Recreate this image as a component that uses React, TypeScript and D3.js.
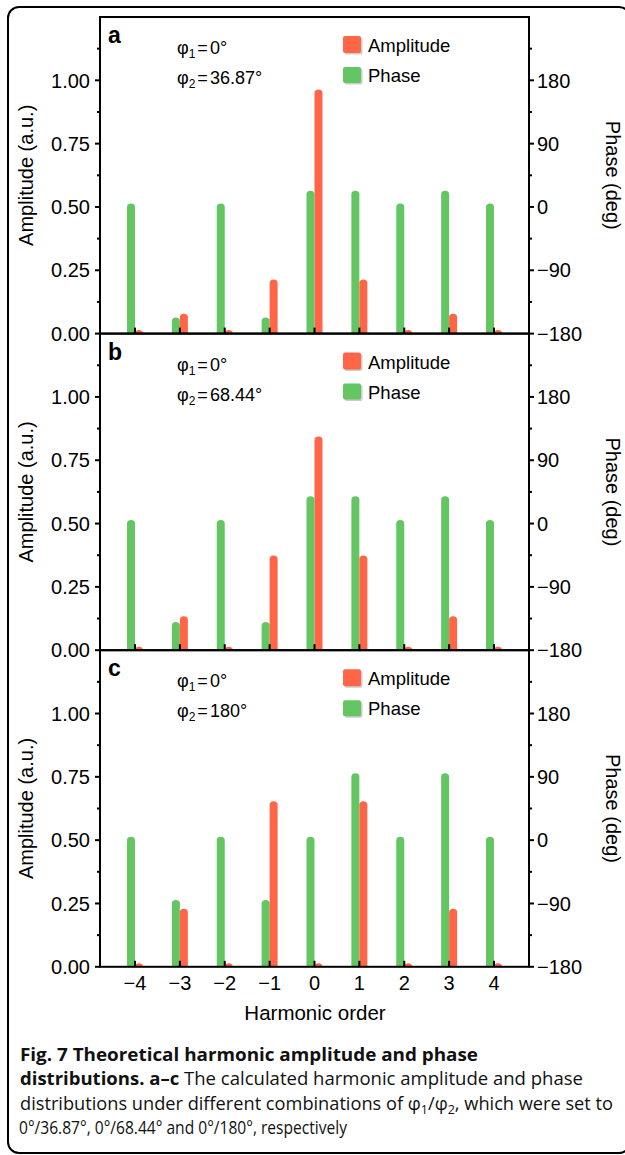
import { useMemo } from 'react';
import * as d3 from 'd3';

const W = 625;
const H = 1155;

// harmonic orders on the x axis
const ORDERS = [-4, -3, -2, -1, 0, 1, 2, 3, 4];

// panel a: phi2 = 36.87
const AMP_A = [0, 0.065, 0, 0.2, 0.95, 0.2, 0, 0.065, 0];
const PHASE_A = [0, -162, 0, -162, 18, 18, 0, 18, 0];
// panel b: phi2 = 68.44
const AMP_B = [0, 0.12, 0, 0.36, 0.83, 0.36, 0, 0.12, 0];
const PHASE_B = [0, -145, 0, -145, 34, 34, 0, 34, 0];
// panel c: phi2 = 180
const AMP_C = [0, 0.215, 0, 0.64, 0, 0.64, 0, 0.215, 0];
const PHASE_C = [0, -90, 0, -90, 0, 90, 0, 90, 0];

const PANEL_LABELS = ['a', 'b', 'c'];
const PHI1 = ['0°', '0°', '0°'];
const PHI2 = ['36.87°', '68.44°', '180°'];

const AMP_TICKS = [0, 0.25, 0.5, 0.75, 1.0];
const AMP_MINOR = [0.125, 0.375, 0.625, 0.875, 1.125];
const PHASE_TICKS = [-180, -90, 0, 90, 180];
const PHASE_MINOR = [-135, -45, 45, 135, 225];

const RED = '#ff6647';
const GREEN = '#63c663';
const FONT = '"Liberation Sans", Arial, Helvetica, sans-serif';
const CAP_FONT = '"Open Sans", "Noto Sans", sans-serif';

const left = 100;
const right = 529;
const top0 = 17;
const panelH = 316.6;
const barW = 8;

const panels = [
  { amp: AMP_A, phase: PHASE_A },
  { amp: AMP_B, phase: PHASE_B },
  { amp: AMP_C, phase: PHASE_C },
];

// bar with a rounded cap on top of the value
function barPath(x0: number, x1: number, yTop: number, yBase: number) {
  const r = (x1 - x0) / 2;
  const ry = 3.5;
  return `M${x0},${yBase}L${x0},${yTop}A${r},${ry} 0 0 1 ${x1},${yTop}L${x1},${yBase}Z`;
}

const Panel = ({ i }: { i: number }) => {
  const t = top0 + i * panelH;
  const b = t + panelH;
  const x = d3.scaleLinear().domain([-4.78, 4.78]).range([left, right]);
  const yAmp = d3.scaleLinear().domain([0, 1.25]).range([b, t]);
  const yPh = d3.scaleLinear().domain([-180, 270]).range([b, t]);
  const fAmp = d3.format('.2f');
  const fPh = d3.format('d');
  const { amp, phase } = panels[i];

  return (
    <g>
      {ORDERS.map((o, k) => (
        <path key={'g' + k} d={barPath(x(o) - barW, x(o), yPh(phase[k]), b)} fill={GREEN} />
      ))}
      {ORDERS.map((o, k) => (
        <path key={'r' + k} d={barPath(x(o), x(o) + barW, yAmp(amp[k]), b)} fill={RED} />
      ))}
      {/* bottom inward ticks */}
      {ORDERS.map((o) => (
        <line key={'xt' + o} x1={x(o)} x2={x(o)} y1={b} y2={b - 6} stroke="#000" strokeWidth={2} />
      ))}
      <rect x={left} y={t} width={right - left} height={panelH} fill="none" stroke="#000" strokeWidth={2} />
      {/* left axis */}
      {AMP_TICKS.map((v) => (
        <g key={'a' + v}>
          <line x1={left - 5} x2={left} y1={yAmp(v)} y2={yAmp(v)} stroke="#000" strokeWidth={2} />
          <text x={90} y={yAmp(v)} dy="0.36em" textAnchor="end" fontSize={20} fontFamily={FONT}>
            {fAmp(v)}
          </text>
        </g>
      ))}
      {AMP_MINOR.map((v) => (
        <line key={'am' + v} x1={left - 3} x2={left} y1={yAmp(v)} y2={yAmp(v)} stroke="#000" strokeWidth={2} />
      ))}
      {/* right axis */}
      {PHASE_TICKS.map((v) => (
        <g key={'p' + v}>
          <line x1={right} x2={right + 5} y1={yPh(v)} y2={yPh(v)} stroke="#000" strokeWidth={2} />
          <text x={537} y={yPh(v)} dy="0.36em" textAnchor="start" fontSize={20} fontFamily={FONT}>
            {fPh(v)}
          </text>
        </g>
      ))}
      {PHASE_MINOR.map((v) => (
        <line key={'pm' + v} x1={right} x2={right + 3} y1={yPh(v)} y2={yPh(v)} stroke="#000" strokeWidth={2} />
      ))}
      <text
        transform={`translate(33,${(t + b) / 2}) rotate(-90)`}
        textAnchor="middle"
        fontSize={20}
        fontFamily={FONT}
      >
        Amplitude (a.u.)
      </text>
      <text
        transform={`translate(606,${(t + b) / 2}) rotate(90)`}
        textAnchor="middle"
        fontSize={20}
        fontFamily={FONT}
      >
        Phase (deg)
      </text>
      {/* panel label and angles */}
      <text x={108} y={t + 26} fontSize={23} fontWeight={700} fontFamily={FONT}>
        {PANEL_LABELS[i]}
      </text>
      <text x={177} y={t + 37} fontSize={18} fontFamily={FONT}>
        <tspan>φ</tspan>
        <tspan fontSize={12} dy={4}>1</tspan>
        <tspan dy={-4} dx={2}>=</tspan>
        <tspan dx={2}>{PHI1[i]}</tspan>
      </text>
      <text x={177} y={t + 67} fontSize={18} fontFamily={FONT}>
        <tspan>φ</tspan>
        <tspan fontSize={12} dy={4}>2</tspan>
        <tspan dy={-4} dx={2}>=</tspan>
        <tspan dx={2}>{PHI2[i]}</tspan>
      </text>
      {/* legend */}
      <rect x={344.5} y={t + 20.5} width={18} height={17} rx={2} fill="#999" opacity={0.5} />
      <rect x={343} y={t + 19} width={18} height={17} rx={2} fill={RED} />
      <text x={368} y={t + 35} fontSize={18.5} fontFamily={FONT}>Amplitude</text>
      <rect x={344.5} y={t + 51.5} width={18} height={16} rx={2} fill="#999" opacity={0.5} />
      <rect x={343} y={t + 50} width={18} height={16} rx={2} fill={GREEN} />
      <text x={368} y={t + 65} fontSize={18.5} fontFamily={FONT}>Phase</text>
      {i === 2 &&
        ORDERS.map((o) => (
          <text key={'xl' + o} x={x(o)} y={990} textAnchor="middle" fontSize={20} fontFamily={FONT}>
            {fPh(o)}
          </text>
        ))}
    </g>
  );
};

export default function App() {
  const idx = useMemo(() => [0, 1, 2], []);
  return (
    <svg
      width={W}
      height={H}
      style={{ position: 'absolute', left: 0, top: 0, background: '#fff' }}
    >
      <rect x={0} y={0} width={W} height={H} fill="#fff" />
      <rect x={8} y={7} width={622} height={1146} rx={11} fill="none" stroke="#000" strokeWidth={2} />
      {idx.map((i) => (
        <Panel key={i} i={i} />
      ))}
      <text x={315} y={1020} textAnchor="middle" fontSize={20.5} fontFamily={FONT}>
        Harmonic order
      </text>
      <g fontFamily={CAP_FONT} fontSize={17.5} fill="#111">
        <text x={20} y={1061} fontWeight={700} textLength={458} lengthAdjust="spacingAndGlyphs">
          Fig. 7 Theoretical harmonic amplitude and phase
        </text>
        <text x={20} y={1085} textLength={563} lengthAdjust="spacingAndGlyphs">
          <tspan fontWeight={700}>distributions. a–c</tspan> The calculated harmonic amplitude and phase
        </text>
        <text x={20} y={1110} textLength={593} lengthAdjust="spacingAndGlyphs">
          distributions under different combinations of φ<tspan fontSize={12} dy={4}>1</tspan>
          <tspan dy={-4}>/φ</tspan>
          <tspan fontSize={12} dy={4}>2</tspan>
          <tspan dy={-4}>, which were set to</tspan>
        </text>
        <text x={19} y={1134} textLength={328} lengthAdjust="spacingAndGlyphs">
          0°/36.87°, 0°/68.44° and 0°/180°, respectively
        </text>
      </g>
    </svg>
  );
}
